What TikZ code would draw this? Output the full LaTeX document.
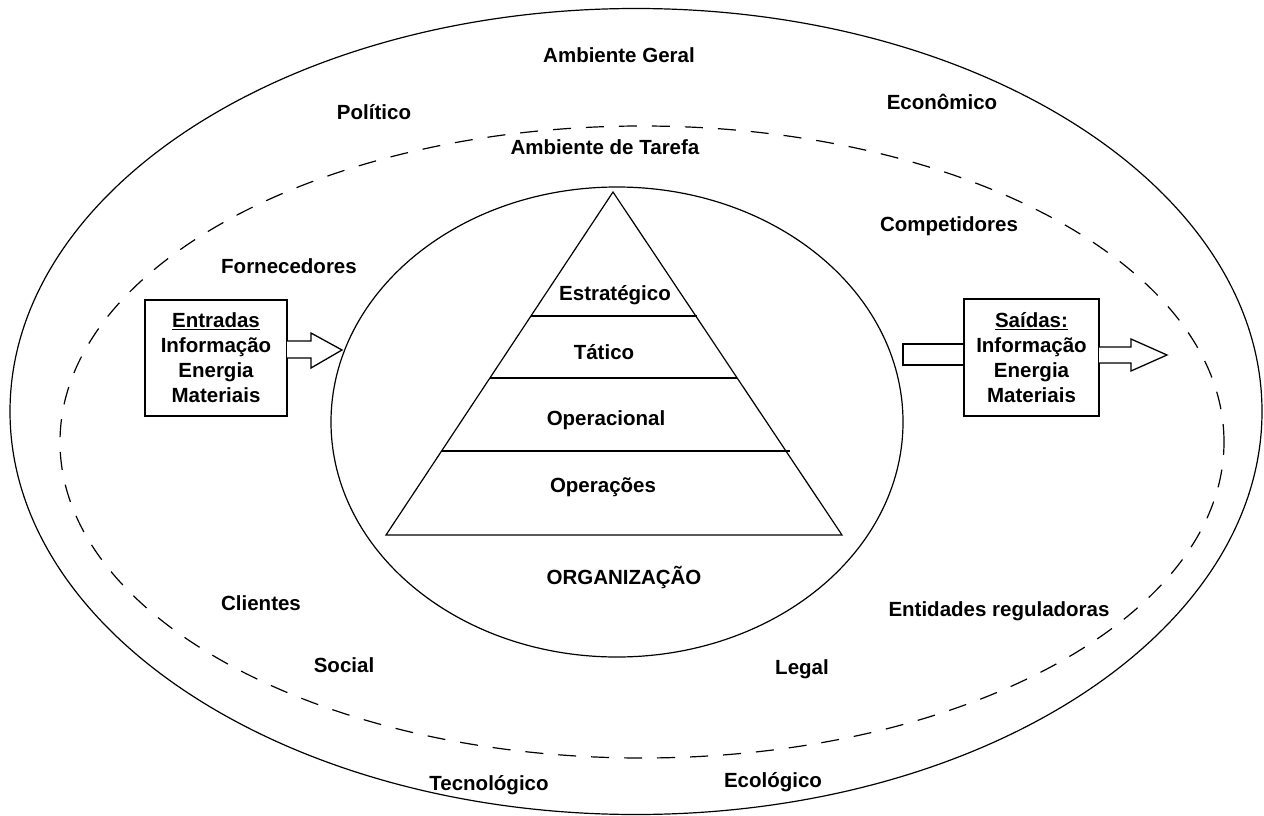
\documentclass[tikz,border=0pt]{standalone}
\usepackage{fontspec}
\setmainfont{Liberation Sans}
\usetikzlibrary{shapes.geometric}

\begin{document}
\begin{tikzpicture}[x=1pt,y=-1pt,
  every node/.style={font=\fontsize{20.5}{25}\selectfont\bfseries},
  lbl/.style={anchor=base, inner sep=0pt},
  ring/.style={draw, ellipse, inner sep=0pt, line width=1.2pt},
  tarefa/.style={ring, dash pattern=on 18pt off 15pt},
  level/.style={line width=1.2pt},
  iobox/.style={draw, rectangle, line width=1.6pt, align=center, inner sep=0pt},
  blockarrow/.style={draw, line width=1.3pt, fill=white, line join=miter}
]
\useasboundingbox (0,0) rectangle (1264,816);

% environment rings
\node[ring, minimum width=1252pt, minimum height=806pt] (geral) at (636,411.5) {};
\node[tarefa, minimum width=1164pt, minimum height=632pt] (tarefaring) at (642,442) {};
\node[ring, minimum width=572pt, minimum height=470pt] (org) at (617,422) {};

% pyramid of management levels
\coordinate (apex) at (613,192);
\coordinate (bl) at (386,535);
\coordinate (br) at (842,535);
\draw[level, line join=miter] (apex) -- (bl) -- (br) -- cycle;
\coordinate (l1a) at (531,316); \coordinate (l1b) at (697,316);
\coordinate (l2a) at (490,378); \coordinate (l2b) at (737,378);
\coordinate (l3a) at (442,451); \coordinate (l3b) at (790,451);
\draw[level] (l1a) -- (l1b);
\draw[level] (l2a) -- (l2b);
\draw[level] (l3a) -- (l3b);

\node[lbl] (estr) at (615,300) {Estratégico};
\node[lbl] (tat)  at (604,359) {Tático};
\node[lbl] (opc)  at (606,425) {Operacional};
\node[lbl] (ops)  at (603,492) {Operações};
\node[lbl] (orgl) at (624,584) {ORGANIZAÇÃO};

% environment labels
\node[lbl] (ag)   at (619,63)  {Ambiente Geral};
\node[lbl] (pol)  at (374,119) {Político};
\node[lbl] (eco)  at (942,110) {Econômico};
\node[lbl] (at)   at (605,154) {Ambiente de Tarefa};
\node[lbl] (comp) at (949,231) {Competidores};
\node[lbl] (forn) at (289,273) {Fornecedores};
\node[lbl] (cli)  at (261,610) {Clientes};
\node[lbl] (ent)  at (999,616) {Entidades reguladoras};
\node[lbl] (soc)  at (344,672) {Social};
\node[lbl] (leg)  at (802,674) {Legal};
\node[lbl] (tec)  at (489,790) {Tecnológico};
\node[lbl] (ecol) at (773,787) {Ecológico};

% inputs
\node[iobox, minimum width=142pt, minimum height=116pt] (inbox) at (216,358)
  {\underline{Entradas}\\Informação\\Energia\\Materiais};
\draw[blockarrow] (287,341) -- (311,341) -- (311,333) -- (342,350)
  -- (311,368) -- (311,358) -- (287,358);

% outputs
\draw[line width=1.3pt] (903,344) rectangle (964,365);
\node[iobox, minimum width=135pt, minimum height=117pt] (outbox) at (1031.5,357.5)
  {\underline{Saídas:}\\Informação\\Energia\\Materiais};
\draw[blockarrow] (1099,347) -- (1131,347) -- (1131,339) -- (1167,355)
  -- (1131,371) -- (1131,363) -- (1099,363);
\end{tikzpicture}
\end{document}
